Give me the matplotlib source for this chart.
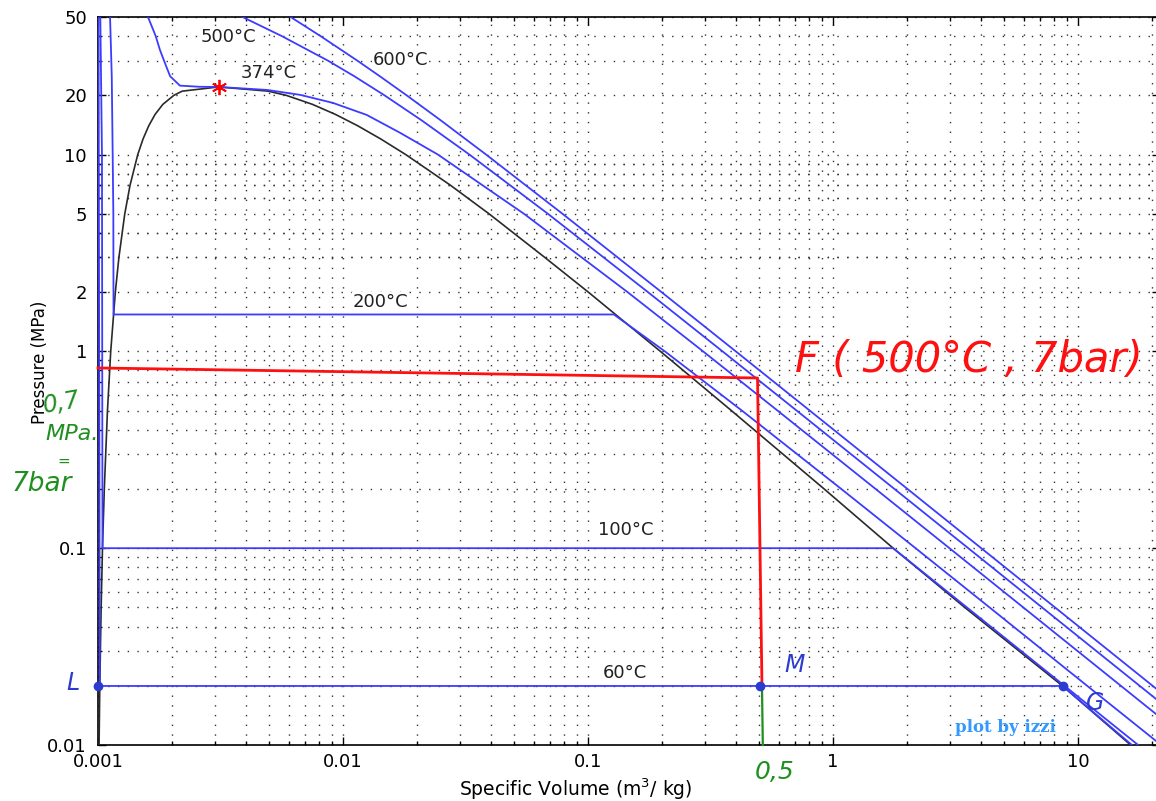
import matplotlib
matplotlib.use("Agg")
import matplotlib.pyplot as plt

W, H = 1156, 801

# saturation dome of water: pressure (MPa), liquid / vapour specific volume (m3/kg)
sat_p = [0.01, 0.01995, 0.05, 0.1, 0.2, 0.5, 1.0, 2.0, 3.0, 5.0, 7.0, 10.0, 12.0,
         14.0, 16.0, 18.0, 20.0, 21.0, 22.06]
sat_vf = [0.001010, 0.001017, 0.001030, 0.001043, 0.001061, 0.001093, 0.001127,
          0.001177, 0.001217, 0.001286, 0.001352, 0.001453, 0.001527, 0.001611,
          0.001710, 0.001840, 0.002040, 0.002207, 0.003106]
sat_vg = [16.4, 8.65, 3.45, 1.76, 0.92, 0.385, 0.1975, 0.1003, 0.06666,
          0.03945, 0.02738, 0.01803, 0.01426, 0.01149, 0.009312, 0.007499,
          0.005862, 0.004952, 0.003106]
crit_v, crit_p = 0.003106, 22.06

# isotherms (v m3/kg, P MPa)
iso600_v = [0.006112, 0.008094, 0.011446, 0.014137, 0.018185, 0.024921, 0.038378,
            0.078699, 0.19960, 0.40109, 0.80409, 2.013, 4.0278, 8.057, 20.15, 40.3]
iso600_p = [50, 40, 30, 25, 20, 15, 10, 5, 2, 1, 0.5, 0.2, 0.1, 0.05, 0.02, 0.01]

iso500_v = [0.003890, 0.005623, 0.008681, 0.011123, 0.014768, 0.020815, 0.032811,
            0.068608, 0.17568, 0.35411, 0.71095, 1.7814, 3.5655, 7.134, 17.84, 35.68]
iso500_p = [50, 40, 30, 25, 20, 15, 10, 5, 2, 1, 0.5, 0.2, 0.1, 0.05, 0.02, 0.01]

iso374_v = [0.00160, 0.00172, 0.00179, 0.00190, 0.00197, 0.00216, 0.0026, 0.003106,
            0.0049, 0.0067, 0.0091, 0.0125, 0.0171, 0.0244, 0.0548, 0.1451, 0.2950,
            0.594, 1.492, 2.988, 5.98, 14.95, 29.9]
iso374_p = [50, 40, 34, 28, 25, 22.4, 22.1, 22.06, 21.3, 20.1, 18.3, 15.9, 12.9, 10,
            5, 2, 1, 0.5, 0.2, 0.1, 0.05, 0.02, 0.01]

iso200_v = [0.001120, 0.001138, 0.001148, 0.001155, 0.001157, 0.1275, 0.20602,
            0.42503, 1.0805, 2.1724, 4.3563, 10.89, 21.83]
iso200_p = [50, 25, 10, 5, 1.54, 1.54, 1.0, 0.5, 0.2, 0.1, 0.05, 0.02, 0.01]

iso100_v = [0.001022, 0.001038, 0.001043, 1.76, 3.52, 8.80, 17.6]
iso100_p = [50, 10, 0.1, 0.1, 0.05, 0.02, 0.01]

iso60_v = [0.001005, 0.001017, 8.65, 16.6]
iso60_p = [50, 0.01995, 0.01995, 0.01]

iso_labels = ["500°C", "374°C", "600°C", "200°C", "100°C", "60°C"]
iso_label_v = [0.00339, 0.00499, 0.0171, 0.01428, 0.1429, 0.1416]
iso_label_p = [39.6, 26.0, 30.2, 1.78, 0.1238, 0.0232]

# hand-drawn construction: F (500 C, 0.7 MPa) down to M on the 60 C line
red_v = [0.001, 0.492, 0.513]
red_p = [0.8236, 0.7325, 0.01995]
green_v = [0.513, 0.517]
green_p = [0.01995, 0.01]
pts_v = [0.001, 0.5053, 8.65]
pts_p = [0.01995, 0.01995, 0.01995]

xticks = [0.001, 0.01, 0.1, 1, 10]
xticklabels = ["0.001", "0.01", "0.1", "1", "10"]
yticks = [0.01, 0.1, 1, 2, 5, 10, 20, 50]
yticklabels = ["0.01", "0.1", "1", "2", "5", "10", "20", "50"]

BLUE = "#3c3cff"
BLACK = "#2a2a2a"

fig = plt.figure(figsize=(W / 100, H / 100), dpi=100)
# plot box: x 98 -> past right edge, y 17 -> 745 (pixels)
x0, x1, y0, y1 = 98, 1160, 745, 17
ax = fig.add_axes([x0 / W, 1 - y0 / H, (x1 - x0) / W, (y0 - y1) / H])
ax.set_xscale("log")
ax.set_yscale("log")
xmax = 10 ** (1 + (x1 - 1078) / 245)

xminor = [m * 10.0 ** e for e in range(-3, 2) for m in range(2, 10)
          if m * 10.0 ** e < xmax]
yminor = [m * 10.0 ** e for e in range(-2, 1) for m in range(2, 10)
          if m * 10.0 ** e not in yticks] + [3, 4, 6, 7, 8, 9, 30, 40]
ax.set_xticks(xticks)
ax.set_xticklabels(xticklabels)
ax.set_xticks(xminor, minor=True)
ax.set_yticks(yticks)
ax.set_yticklabels(yticklabels)
ax.set_yticks(yminor, minor=True)
ax.xaxis.set_minor_formatter(plt.NullFormatter())
ax.yaxis.set_minor_formatter(plt.NullFormatter())
ax.set_xlim(0.001, xmax)
ax.set_ylim(0.01, 50)
ax.tick_params(which="both", direction="in", top=True, right=True, colors="black",
               labelsize=13, width=1.0)
ax.tick_params(which="major", length=6)
ax.tick_params(which="minor", length=3)
ax.tick_params(axis="y", pad=8)
ax.tick_params(axis="x", pad=6)
ax.grid(which="both", color="#333333", linestyle=(0, (1, 6)), linewidth=1.0)
for s in ax.spines.values():
    s.set_linewidth(1.2)
    s.set_color("black")

# saturation dome
dome_v = sat_vf + sat_vg[::-1]
dome_p = sat_p + sat_p[::-1]
ax.plot(dome_v, dome_p, color=BLACK, lw=1.2, zorder=3)

for v, p in [(iso60_v, iso60_p), (iso100_v, iso100_p), (iso200_v, iso200_p),
             (iso374_v, iso374_p), (iso500_v, iso500_p), (iso600_v, iso600_p)]:
    ax.plot(v, p, color=BLUE, lw=1.3, zorder=4)

ax.plot([crit_v], [crit_p], marker=(6, 2, 0), color="red", ms=11, mew=1.3, zorder=6)

for t, v, p in zip(iso_labels, iso_label_v, iso_label_p):
    ax.text(v, p, t, fontsize=13, ha="center", va="center", color="#222222",
            bbox=dict(facecolor="white", edgecolor="none", pad=0.5), zorder=5)

# annotations
ax.plot(red_v, red_p, color="#ff1010", lw=2.0, zorder=7, clip_on=False)
ax.plot(green_v, green_p, color="#1f8f1f", lw=1.6, zorder=7, clip_on=False)
ax.plot(pts_v, pts_p, "o", color="#2b3bd0", ms=6, zorder=8, clip_on=False)

fig.text(795 / W, 1 - 360 / H, "F ( 500°C , 7bar)", color="#ff1010", fontsize=30,
         style="italic", ha="left", va="center")
fig.text(62 / W, 1 - 403 / H, "0,7", color="#1f8f1f", fontsize=17, style="italic",
         ha="center", va="center", rotation=10)
fig.text(72 / W, 1 - 434 / H, "MPa.", color="#1f8f1f", fontsize=16, style="italic",
         ha="center", va="center")
fig.text(64 / W, 1 - 461 / H, "=", color="#1f8f1f", fontsize=11, ha="center", va="center")
fig.text(42 / W, 1 - 484 / H, "7bar", color="#1f8f1f", fontsize=19, style="italic",
         ha="center", va="center")
fig.text(775 / W, 1 - 772 / H, "0,5", color="#1f8f1f", fontsize=18, style="italic",
         ha="center", va="center")
fig.text(73 / W, 1 - 683 / H, "L", color="#2b3bd0", fontsize=17, style="italic",
         ha="center", va="center")
fig.text(795 / W, 1 - 665 / H, "M", color="#2b3bd0", fontsize=17, style="italic",
         ha="center", va="center")
fig.text(1095 / W, 1 - 703 / H, "G", color="#2b3bd0", fontsize=17, style="italic",
         ha="center", va="center")
fig.text(1005 / W, 1 - 727 / H, "plot by izzi", color="#3399ff", fontsize=12,
         fontweight="bold", family="DejaVu Serif", ha="center", va="center")

fig.text(576 / W, 1 - 789 / H, "Specific Volume (m$^3$/ kg)", fontsize=13.5,
         ha="center", va="center")
fig.text(40 / W, 1 - 362 / H, "Pressure (MPa)", fontsize=12, rotation=90,
         ha="center", va="center")

fig.savefig("out.png", dpi=100)
